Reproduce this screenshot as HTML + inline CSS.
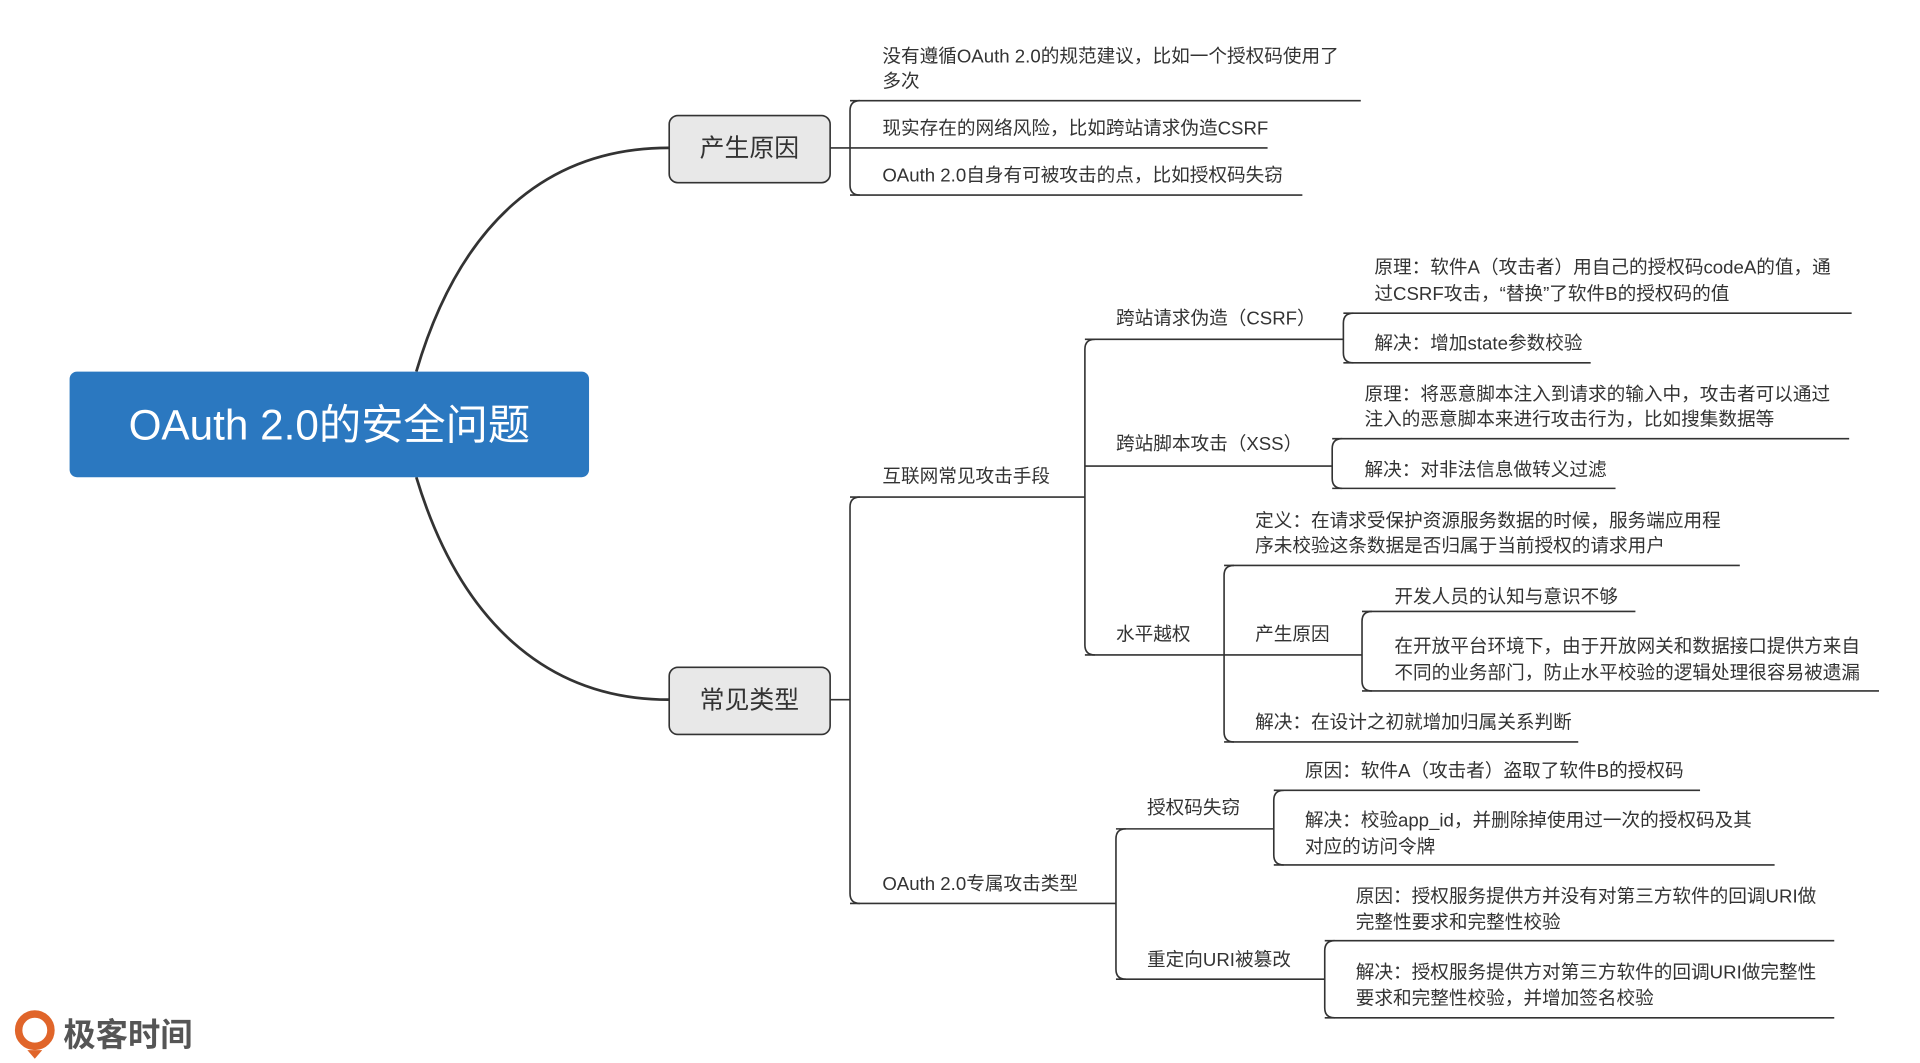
<!DOCTYPE html>
<html><head><meta charset="utf-8"><style>
html,body{margin:0;padding:0;background:#fff;}
svg{display:block;}
text{font-family:"Liberation Sans","Noto Sans CJK SC",sans-serif;fill:#333;font-size:15px;dominant-baseline:central;}
</style></head><body>
<svg width="1920" height="1063" viewBox="0 0 1545 855.4" preserveAspectRatio="none" xmlns="http://www.w3.org/2000/svg">
<g fill="none" stroke="#333" stroke-width="1.3">
<!-- main curves -->
<path d="M335 299 C 370 180, 440 119, 538 119" stroke-width="2.2"/>
<path d="M335 384 C 370 500, 440 563, 538 563" stroke-width="2.2"/>
<!-- 产生原因 branch -->
<path d="M668 119 H684"/>
<path d="M692 81 Q684 81 684 89 V149 Q684 157 692 157"/>
<path d="M684 81 H1095 M684 119 H1020 M684 157 H1048"/>
<!-- 常见类型 branch -->
<path d="M668 563 H684"/>
<path d="M692 400 Q684 400 684 408 V719 Q684 727 692 727"/>
<path d="M684 400 H873 M684 727 H898"/>
<!-- 互联网 -->
<path d="M881 273 Q873 273 873 281 V519 Q873 527 881 527"/>
<path d="M873 273 H1081 M873 375 H1072 M873 527 H985"/>
<!-- CSRF -->
<path d="M1089 252 Q1081 252 1081 260 V284 Q1081 292 1089 292"/>
<path d="M1081 252 H1490 M1081 292 H1280"/>
<!-- XSS -->
<path d="M1080 353 Q1072 353 1072 361 V385 Q1072 393 1080 393"/>
<path d="M1072 353 H1488 M1072 393 H1300"/>
<!-- 水平越权 -->
<path d="M993 455 Q985 455 985 463 V589 Q985 597 993 597"/>
<path d="M985 455 H1400 M985 527 H1096 M985 597 H1270"/>
<path d="M1104 492 Q1096 492 1096 500 V548 Q1096 556 1104 556"/>
<path d="M1096 492 H1316 M1096 556 H1512"/>
<!-- OAuth -->
<path d="M906 667 Q898 667 898 675 V780 Q898 788 906 788"/>
<path d="M898 667 H1025 M898 788 H1066"/>
<path d="M1033 636 Q1025 636 1025 644 V688 Q1025 696 1033 696"/>
<path d="M1025 636 H1368 M1025 696 H1428"/>
<path d="M1074 757 Q1066 757 1066 765 V811 Q1066 819 1074 819"/>
<path d="M1066 757 H1476 M1066 819 H1476"/>
</g>
<!-- central -->
<rect x="56" y="299" width="418" height="85" rx="6" fill="#2b78c0"/>
<text x="265" y="342" text-anchor="middle" style="fill:#fff;font-size:34px;">OAuth 2.0的安全问题</text>
<rect x="538.5" y="93" width="129.5" height="54" rx="7" fill="#e8e8e8" stroke="#333" stroke-width="1.3"/>
<text x="603" y="120" text-anchor="middle" style="font-size:20px;">产生原因</text>
<rect x="538.5" y="537" width="129.5" height="54" rx="7" fill="#e8e8e8" stroke="#333" stroke-width="1.3"/>
<text x="603" y="564" text-anchor="middle" style="font-size:20px;">常见类型</text>

<text x="710" y="45">没有遵循OAuth 2.0的规范建议，比如一个授权码使用了</text>
<text x="710" y="65">多次</text>
<text x="710" y="103">现实存在的网络风险，比如跨站请求伪造CSRF</text>
<text x="710" y="141">OAuth 2.0自身有可被攻击的点，比如授权码失窃</text>

<text x="710" y="383">互联网常见攻击手段</text>
<text x="710" y="711">OAuth 2.0专属攻击类型</text>

<text x="898" y="256">跨站请求伪造（CSRF）</text>
<text x="1106" y="215">原理：软件A（攻击者）用自己的授权码codeA的值，通</text>
<text x="1106" y="236">过CSRF攻击，“替换”了软件B的授权码的值</text>
<text x="1106" y="276">解决：增加state参数校验</text>

<text x="898" y="357">跨站脚本攻击（XSS）</text>
<text x="1098" y="317">原理：将恶意脚本注入到请求的输入中，攻击者可以通过</text>
<text x="1098" y="337">注入的恶意脚本来进行攻击行为，比如搜集数据等</text>
<text x="1098" y="378">解决：对非法信息做转义过滤</text>

<text x="898" y="510">水平越权</text>
<text x="1010" y="419">定义：在请求受保护资源服务数据的时候，服务端应用程</text>
<text x="1010" y="439">序未校验这条数据是否归属于当前授权的请求用户</text>
<text x="1010" y="510">产生原因</text>
<text x="1010" y="581">解决：在设计之初就增加归属关系判断</text>
<text x="1122" y="480">开发人员的认知与意识不够</text>
<text x="1122" y="520">在开放平台环境下，由于开放网关和数据接口提供方来自</text>
<text x="1122" y="541">不同的业务部门，防止水平校验的逻辑处理很容易被遗漏</text>

<text x="923" y="650">授权码失窃</text>
<text x="1050" y="620">原因：软件A（攻击者）盗取了软件B的授权码</text>
<text x="1050" y="660">解决：校验app_id，并删除掉使用过一次的授权码及其</text>
<text x="1050" y="681">对应的访问令牌</text>
<text x="923" y="772">重定向URI被篡改</text>
<text x="1091" y="721">原因：授权服务提供方并没有对第三方软件的回调URI做</text>
<text x="1091" y="742">完整性要求和完整性校验</text>
<text x="1091" y="782">解决：授权服务提供方对第三方软件的回调URI做完整性</text>
<text x="1091" y="803">要求和完整性校验，并增加签名校验</text>

<!-- logo -->
<circle cx="28" cy="829" r="13" fill="none" stroke="#e0652a" stroke-width="6"/>
<path d="M22 845 L28 852 L34 845 Z" fill="#e0652a"/>
<text x="51" y="833" style="font-size:26px;fill:#555;font-weight:bold;">极客时间</text>
</svg>
</body></html>
